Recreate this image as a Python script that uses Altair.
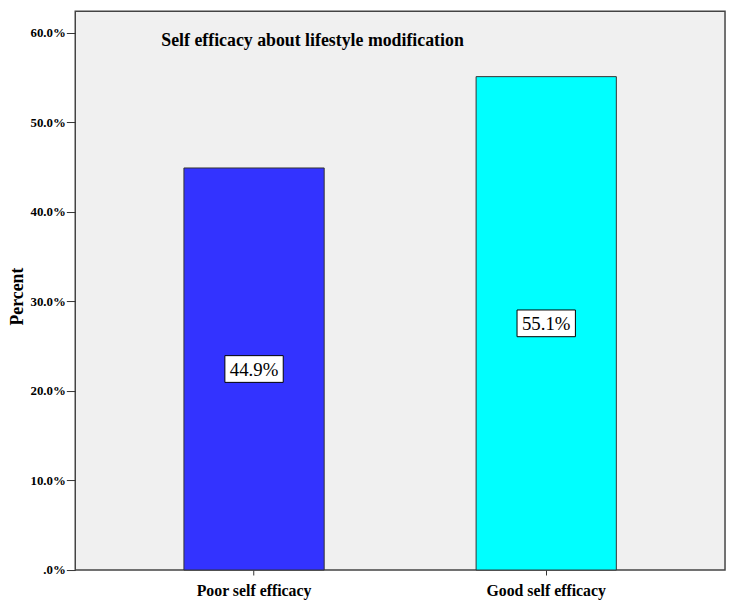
import altair as alt
import pandas as pd

categories = ["Poor self efficacy", "Good self efficacy"]
percents = [44.9, 55.1]
labels = ["44.9%", "55.1%"]
colors = ["#3333FF", "#00FFFF"]
y_ticks = [0, 10, 20, 30, 40, 50, 60]
chart_title = "Self efficacy about lifestyle modification"

df = pd.DataFrame({"cat": categories, "pct": percents, "label": labels,
                   "half": [p / 2 for p in percents]})

FONT = "Times New Roman, Liberation Serif, DejaVu Serif, serif"

x_enc = alt.X("cat:N", sort=categories,
              scale=alt.Scale(paddingInner=0.52, paddingOuter=0.372),
              axis=alt.Axis(title=None, labelAngle=0, labelFont=FONT, labelFontSize=16,
                            labelFontWeight="bold", labelColor="#000", tickSize=5,
                            tickColor="#333", labelPadding=8, domain=False))

bars = alt.Chart(df).mark_bar(stroke="#333333", strokeWidth=1).encode(
    x=x_enc,
    y=alt.Y("pct:Q", scale=alt.Scale(domain=[0, 62.4], nice=False, zero=True),
            axis=alt.Axis(values=y_ticks, title="Percent", titleFont=FONT, titleFontSize=18,
                          titleFontWeight="bold", titleColor="#000", titleAngle=270,
                          titleX=-58, titleY=288, titleAlign="center", titleBaseline="middle",
                          labelFont=FONT, labelFontSize=13, labelFontWeight="bold",
                          labelColor="#000", tickSize=9, tickColor="#333", labelPadding=1,
                          grid=False, domain=False,
                          labelExpr="datum.value == 0 ? '.0%' : format(datum.value, '.1f') + '%'")),
    color=alt.Color("cat:N", sort=categories,
                    scale=alt.Scale(domain=categories, range=colors), legend=None),
)

boxes = alt.Chart(df).mark_point(
    shape="M-1,-0.458L1,-0.458L1,0.458L-1,0.458Z", size=3481, filled=True,
    fill="white", stroke="#000", strokeWidth=1, opacity=1
).encode(x=alt.X("cat:N", sort=categories), y="half:Q")

texts = alt.Chart(df).mark_text(font=FONT, fontSize=19, color="#000", baseline="middle",
                                 dy=1).encode(
    x=alt.X("cat:N", sort=categories), y="half:Q", text="label:N")

title_df = pd.DataFrame({"t": [chart_title]})
title = alt.Chart(title_df).mark_text(font=FONT, fontSize=18, fontWeight="bold", color="#000",
                                      align="left", baseline="middle").encode(
    x=alt.value(87), y=alt.value(30), text="t:N")

chart = alt.layer(bars, boxes, texts, title).properties(
    width=657, height=565,
    background="white",
    autosize=alt.AutoSizeParams(type="none"),
    padding={"left": 68, "right": 2, "top": 0, "bottom": 28},
).configure_view(fill="#F0F0F0", stroke="#444444", strokeWidth=1.5)

chart.save("out.html", embed_options={"renderer": "svg", "actions": False})
